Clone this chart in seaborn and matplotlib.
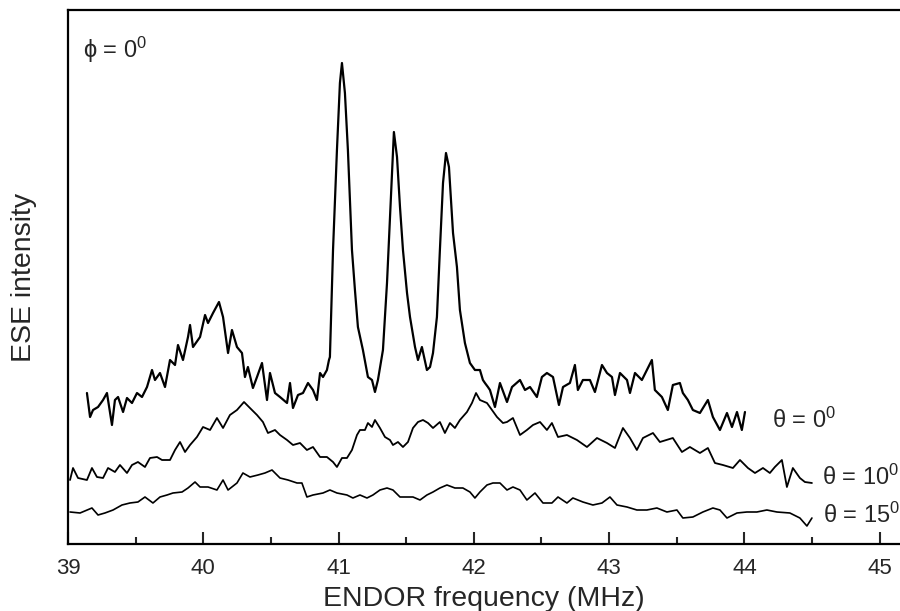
import numpy as np
import pandas as pd
import matplotlib
matplotlib.use("Agg")
import matplotlib.pyplot as plt
import seaborn as sns
from matplotlib.ticker import MultipleLocator

# ---------------- data ----------------
freq_t0 = [39.140, 39.163, 39.185, 39.222, 39.259, 39.288, 39.325, 39.347, 39.370, 39.407,
           39.436, 39.473, 39.510, 39.547, 39.584, 39.621, 39.643, 39.680, 39.717, 39.754,
           39.791, 39.813, 39.850, 39.887, 39.902, 39.924, 39.976, 40.013, 40.035, 40.072,
           40.116, 40.146, 40.183, 40.212, 40.249, 40.286, 40.308, 40.330, 40.367, 40.397,
           40.434, 40.471, 40.493, 40.530, 40.567, 40.619, 40.641, 40.663, 40.700, 40.737,
           40.774, 40.811, 40.840, 40.863, 40.885, 40.914, 40.929, 40.936, 40.959, 40.988,
           41.010, 41.025, 41.047, 41.069, 41.099, 41.121, 41.143, 41.180, 41.217, 41.247,
           41.269, 41.291, 41.328, 41.358, 41.380, 41.409, 41.432, 41.454, 41.476, 41.506,
           41.528, 41.565, 41.587, 41.616, 41.653, 41.676, 41.698, 41.727, 41.749, 41.772,
           41.794, 41.816, 41.846, 41.875, 41.897, 41.934, 41.971, 42.008, 42.045, 42.067,
           42.082, 42.104, 42.119, 42.156, 42.193, 42.245, 42.282, 42.341, 42.378, 42.415,
           42.466, 42.503, 42.540, 42.585, 42.629, 42.659, 42.710, 42.747, 42.769, 42.806,
           42.858, 42.895, 42.947, 42.984, 43.021, 43.043, 43.080, 43.132, 43.154, 43.191,
           43.242, 43.279, 43.316, 43.338, 43.390, 43.434, 43.471, 43.523, 43.545, 43.582,
           43.619, 43.671, 43.730, 43.767, 43.819, 43.871, 43.908, 43.945, 43.981, 44.004]
int_t0 = [151, 127, 134, 137, 144, 151, 119, 144, 147, 132,
          146, 141, 151, 147, 157, 174, 164, 171, 157, 184,
          179, 199, 184, 207, 219, 197, 207, 229, 221, 231,
          242, 227, 191, 214, 197, 191, 167, 177, 156, 167,
          181, 144, 171, 151, 147, 141, 161, 136, 149, 151,
          161, 154, 144, 171, 167, 174, 184, 187, 294, 394,
          461, 481, 451, 394, 294, 254, 217, 194, 167, 164,
          152, 164, 194, 261, 327, 412, 387, 337, 294, 251,
          227, 197, 184, 197, 174, 177, 191, 227, 294, 361,
          391, 377, 311, 277, 234, 201, 181, 174, 174, 164,
          161, 157, 154, 137, 161, 142, 157, 164, 154, 157,
          147, 167, 171, 167, 139, 157, 161, 179, 154, 164,
          164, 152, 179, 171, 167, 149, 171, 164, 151, 171,
          164, 174, 184, 154, 147, 134, 159, 161, 151, 144,
          134, 131, 144, 127, 114, 131, 117, 132, 114, 132]

freq_t10 = [39.015, 39.037, 39.074, 39.140, 39.177, 39.214, 39.259, 39.296, 39.347, 39.384,
            39.436, 39.473, 39.517, 39.569, 39.606, 39.658, 39.695, 39.754, 39.791, 39.828,
            39.865, 39.902, 39.953, 39.998, 40.050, 40.101, 40.146, 40.197, 40.249, 40.301,
            40.345, 40.397, 40.441, 40.478, 40.530, 40.567, 40.619, 40.663, 40.715, 40.766,
            40.811, 40.863, 40.914, 40.959, 40.988, 41.025, 41.062, 41.099, 41.136, 41.158,
            41.195, 41.217, 41.247, 41.269, 41.306, 41.343, 41.380, 41.402, 41.439, 41.476,
            41.513, 41.550, 41.587, 41.624, 41.661, 41.698, 41.749, 41.786, 41.823, 41.860,
            41.897, 41.949, 41.986, 42.016, 42.045, 42.097, 42.134, 42.171, 42.215, 42.245,
            42.289, 42.341, 42.392, 42.437, 42.489, 42.540, 42.577, 42.622, 42.688, 42.762,
            42.836, 42.910, 42.984, 43.043, 43.102, 43.154, 43.205, 43.250, 43.324, 43.375,
            43.471, 43.538, 43.597, 43.671, 43.730, 43.782, 43.841, 43.915, 43.967, 44.026,
            44.078, 44.137, 44.188, 44.225, 44.277, 44.314, 44.358, 44.410, 44.447, 44.499]
int_t10 = [64, 76, 66, 64, 76, 67, 66, 76, 72, 79,
           71, 79, 82, 77, 86, 87, 84, 84, 94, 102,
           92, 99, 107, 117, 114, 126, 116, 129, 134, 142,
           136, 129, 122, 111, 114, 109, 104, 99, 101, 94,
           97, 87, 87, 82, 77, 86, 86, 94, 109, 114,
           114, 121, 117, 124, 116, 107, 104, 99, 102, 97,
           102, 116, 122, 124, 121, 116, 122, 111, 121, 116,
           124, 132, 141, 151, 144, 141, 134, 127, 121, 122,
           126, 109, 114, 119, 122, 114, 121, 107, 109, 104,
           97, 106, 101, 96, 116, 106, 94, 106, 111, 102,
           106, 92, 97, 91, 96, 81, 79, 76, 84, 76,
           71, 76, 71, 77, 84, 57, 76, 66, 62, 61]

freq_t15 = [39.015, 39.089, 39.177, 39.222, 39.273, 39.333, 39.399, 39.458, 39.517, 39.569,
            39.628, 39.680, 39.732, 39.776, 39.843, 39.887, 39.939, 39.976, 40.035, 40.101,
            40.146, 40.183, 40.249, 40.293, 40.345, 40.404, 40.456, 40.508, 40.567, 40.626,
            40.693, 40.729, 40.766, 40.811, 40.885, 40.936, 40.988, 41.062, 41.106, 41.158,
            41.210, 41.254, 41.306, 41.358, 41.402, 41.454, 41.506, 41.550, 41.602, 41.653,
            41.698, 41.749, 41.801, 41.860, 41.919, 41.971, 42.008, 42.045, 42.097, 42.141,
            42.193, 42.245, 42.289, 42.341, 42.392, 42.452, 42.511, 42.577, 42.622, 42.688,
            42.732, 42.806, 42.880, 42.947, 43.006, 43.058, 43.132, 43.205, 43.279, 43.353,
            43.427, 43.501, 43.545, 43.619, 43.693, 43.767, 43.819, 43.871, 43.945, 44.018,
            44.092, 44.166, 44.240, 44.336, 44.410, 44.462, 44.499]
int_t15 = [32, 31, 36, 29, 31, 34, 39, 41, 42, 47,
           41, 47, 49, 51, 52, 56, 62, 57, 57, 54,
           64, 54, 61, 71, 67, 69, 71, 74, 66, 64,
           61, 61, 47, 49, 51, 54, 51, 49, 46, 49,
           46, 49, 54, 56, 54, 47, 47, 47, 44, 49,
           52, 56, 59, 56, 56, 52, 46, 52, 59, 61,
           61, 54, 57, 54, 44, 51, 41, 41, 47, 41,
           46, 42, 39, 41, 47, 39, 37, 34, 34, 36,
           32, 34, 26, 27, 32, 36, 34, 26, 31, 32,
           32, 34, 32, 31, 26, 18, 26]

x_ticks = [39, 40, 41, 42, 43, 44, 45]
trace_labels = ["θ = 0$^0$", "θ = 10$^0$", "θ = 15$^0$"]
phi_label = "ϕ = 0$^0$"

# ---------------- styling ----------------
sns.set_style("ticks")
plt.rcParams["font.family"] = ["Liberation Sans", "DejaVu Sans"]
plt.rcParams["mathtext.fontset"] = "custom"
plt.rcParams["mathtext.rm"] = "Liberation Sans"
plt.rcParams["mathtext.it"] = "Liberation Sans"

fig = plt.figure(figsize=(9.0, 6.11), dpi=100)
ax = fig.add_axes([68 / 900, 1 - 544 / 611, 1 - 68 / 900, (544 - 10) / 611])

frames = []
for f, v, name in [(freq_t0, int_t0, "t0"), (freq_t10, int_t10, "t10"), (freq_t15, int_t15, "t15")]:
    frames.append(pd.DataFrame({"freq": f, "intensity": v, "trace": name}))
df = pd.concat(frames, ignore_index=True)

for name, lw in [("t0", 1.6), ("t10", 1.3), ("t15", 1.2)]:
    sub = df[df["trace"] == name]
    sns.lineplot(data=sub, x="freq", y="intensity", ax=ax, color="black",
                 linewidth=lw, sort=False, estimator=None)

ax.set_xlim(39, 45.15)
ax.set_ylim(0, 534)
ax.set_xticks(x_ticks)
ax.xaxis.set_minor_locator(MultipleLocator(0.5))
ax.set_yticks([])
ax.tick_params(axis="x", which="major", direction="in", length=9, width=1.5,
               labelsize=16, pad=10)
ax.tick_params(axis="x", which="minor", direction="in", length=5, width=1.5)

for s in ["left", "top", "bottom"]:
    ax.spines[s].set_linewidth(1.6)
    ax.spines[s].set_color("black")
ax.spines["right"].set_visible(False)

ax.set_xlabel("ENDOR frequency (MHz)", fontsize=20.5, labelpad=5)
ax.set_ylabel("ESE intensity", fontsize=20.5, labelpad=22)

ax.text(44.203, 124, trace_labels[0], fontsize=17, va="center", ha="left")
ax.text(44.573, 67, trace_labels[1], fontsize=17, va="center", ha="left")
ax.text(44.580, 29, trace_labels[2], fontsize=17, va="center", ha="left")
ax.text(39.111, 494, phi_label, fontsize=17, va="center", ha="left")

fig.savefig("out.png", dpi=100)
